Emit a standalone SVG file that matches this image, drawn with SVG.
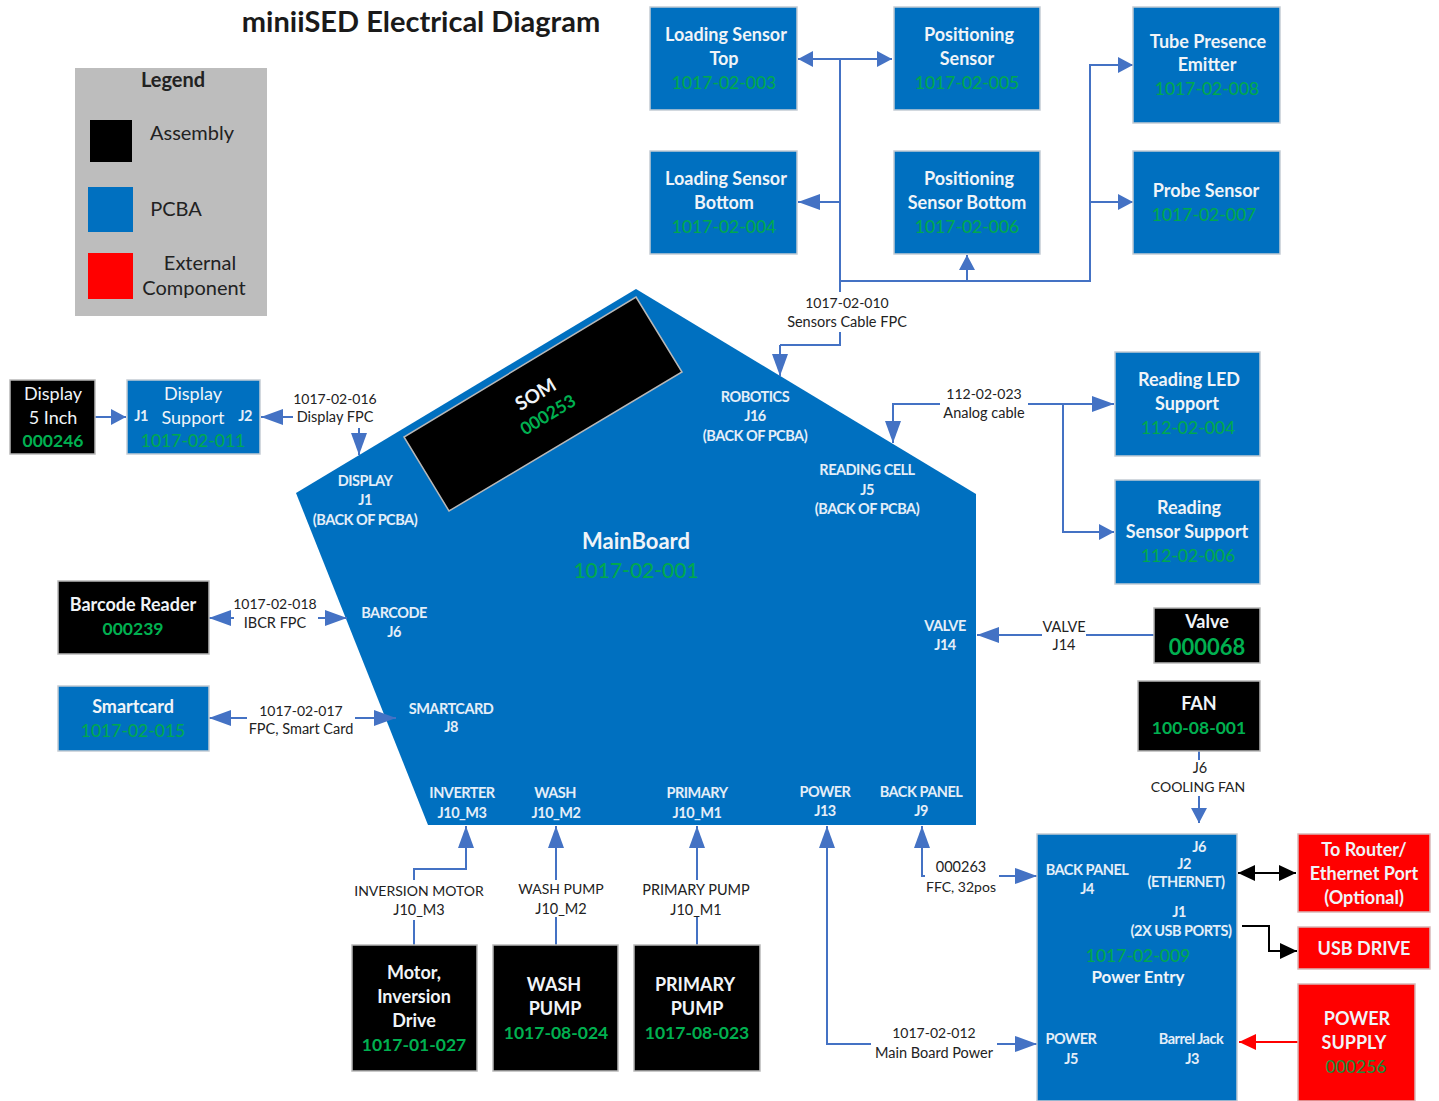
<svg xmlns="http://www.w3.org/2000/svg" width="1439" height="1101" viewBox="0 0 1439 1101">
<style>
text{font-family:Lato,"Open Sans","Liberation Sans",sans-serif;text-anchor:middle}
.b{fill:#0070c0;stroke:#c4ccd4;stroke-width:1.5}
.k{fill:#000;stroke:#b8b8b8;stroke-width:1.5}
.r{fill:#f00;stroke:#d8b8b8;stroke-width:1.5}
.t{fill:#f0f4f8;font-size:18px;font-weight:700}
.w{fill:#f0f4f8;font-size:18px}
.g{fill:#00a84f;font-size:17.5px;font-weight:500}
.g2{fill:#00b050;font-size:17.5px;font-weight:700}
.p{fill:#e4eef8;font-size:14.5px;font-weight:700;letter-spacing:-.5px}
.l{fill:#222;font-size:14.5px}
.n{fill:#222;font-size:14px}
.lg{fill:#222;font-size:20px}
.c{fill:none;stroke:#4472c4;stroke-width:2}
.ab{marker-end:url(#a)}
.as{marker-start:url(#as)}
.sb{marker-end:url(#s)}
.ss{marker-start:url(#ss)}
</style>
<defs>
<marker id="a" markerUnits="userSpaceOnUse" markerWidth="24" markerHeight="18" refX="22" refY="8" orient="auto"><path d="M0 0L22 8L0 16Z" fill="#4472c4"/></marker>
<marker id="as" markerUnits="userSpaceOnUse" markerWidth="24" markerHeight="18" refX="0" refY="8" orient="auto"><path d="M22 0L0 8L22 16Z" fill="#4472c4"/></marker>
<marker id="s" markerUnits="userSpaceOnUse" markerWidth="18" markerHeight="18" refX="15" refY="8" orient="auto"><path d="M0 0L15 8L0 16Z" fill="#4472c4"/></marker>
<marker id="ss" markerUnits="userSpaceOnUse" markerWidth="18" markerHeight="18" refX="0" refY="8" orient="auto"><path d="M15 0L0 8L15 16Z" fill="#4472c4"/></marker>
<marker id="ak" markerUnits="userSpaceOnUse" markerWidth="20" markerHeight="20" refX="17" refY="8" orient="auto"><path d="M0 0L17 8L0 16Z" fill="#000"/></marker>
<marker id="aks" markerUnits="userSpaceOnUse" markerWidth="20" markerHeight="20" refX="0" refY="8" orient="auto"><path d="M17 0L0 8L17 16Z" fill="#000"/></marker>
<marker id="ar" markerUnits="userSpaceOnUse" markerWidth="20" markerHeight="20" refX="17" refY="8" orient="auto"><path d="M0 0L17 8L0 16Z" fill="#f00"/></marker>
</defs>
<rect width="1439" height="1101" fill="#fff"/>
<text id="title" x="421" y="32" font-size="29" font-weight="700" fill="#1a1a1a">miniiSED Electrical Diagram</text>

<g id="legend">
<rect x="75" y="68" width="192" height="248" fill="#bdbdbd"/>
<text class="lg" x="173" y="87" font-weight="700">Legend</text>
<rect x="90" y="120" width="42" height="42" fill="#000"/>
<text class="lg" x="192" y="140">Assembly</text>
<rect x="88" y="187" width="45" height="45" fill="#0070c0"/>
<text class="lg" x="176" y="216">PCBA</text>
<rect x="88" y="253" width="45" height="46" fill="#f00"/>
<text class="lg" x="200" y="270">External</text>
<text class="lg" x="194" y="295">Component</text>
</g>

<g id="mainboard">
<path d="M636 289L976 494V825H428L296 493Z" fill="#0070c0"/>
<text x="636" y="549" class="t" style="font-size:22px">MainBoard</text>
<text x="636" y="578" class="g" style="font-size:21px">1017-02-001</text>
<text class="p" x="365" y="486">DISPLAY</text><text class="p" x="365" y="505">J1</text><text class="p" x="365" y="525">(BACK OF PCBA)</text>
<text class="p" x="755" y="402">ROBOTICS</text><text class="p" x="755" y="421">J16</text><text class="p" x="755" y="441">(BACK OF PCBA)</text>
<text class="p" x="867" y="475">READING CELL</text><text class="p" x="867" y="495">J5</text><text class="p" x="867" y="514">(BACK OF PCBA)</text>
<text class="p" x="394" y="618">BARCODE</text><text class="p" x="394" y="637">J6</text>
<text class="p" x="451" y="714">SMARTCARD</text><text class="p" x="451" y="732">J8</text>
<text class="p" x="945" y="631">VALVE</text><text class="p" x="945" y="650">J14</text>
<text class="p" x="462" y="798">INVERTER</text><text class="p" x="462" y="818">J10_M3</text>
<text class="p" x="555" y="798">WASH</text><text class="p" x="556" y="818">J10_M2</text>
<text class="p" x="697" y="798">PRIMARY</text><text class="p" x="697" y="818">J10_M1</text>
<text class="p" x="825" y="797">POWER</text><text class="p" x="825" y="816">J13</text>
<text class="p" x="921" y="797">BACK PANEL</text><text class="p" x="921" y="816">J9</text>
</g>

<g id="som">
<path d="M636 297L682 372L449 511L404 437Z" fill="#000" stroke="#b8b8b8" stroke-width="1.5"/>
<text class="t" transform="translate(539 400) rotate(-31)" style="font-size:19px">SOM</text>
<text class="g2" transform="translate(551 420) rotate(-31)">000253</text>
</g>

<g id="connectors">
<path class="c sb ss" d="M798 59H892"/>
<path class="c" d="M840 59V345H780"/>
<path class="c ab" d="M840 202H798"/>
<path class="c sb" d="M840 281H967V255"/>
<path class="c sb" d="M840 281H1090V65H1133"/>
<path class="c sb" d="M1090 202H1133"/>
<path class="c ab" d="M780 345V376"/>
<rect x="786" y="292" width="122" height="40" fill="#fff"/>
<text class="n" x="847" y="308">1017-02-010</text><text class="l" x="847" y="327">Sensors Cable FPC</text>

<path class="c sb" d="M95 417H126"/>
<path class="c ab" d="M335 417H261"/>
<path class="c ab" d="M359 417V455"/>
<rect x="293" y="390" width="85" height="38" fill="#fff"/>
<text class="n" x="335" y="404">1017-02-016</text><text class="l" x="335" y="422">Display FPC</text>

<path class="c ab" d="M1040 404H893V443"/>
<path class="c ab" d="M1040 404H1114"/>
<path class="c sb" d="M1063 404V532H1114"/>
<rect x="940" y="385" width="88" height="38" fill="#fff"/>
<text class="n" x="984" y="399">112-02-023</text><text class="l" x="984" y="418">Analog cable</text>

<path class="c ab as" d="M209 618H347"/>
<rect x="234" y="596" width="84" height="38" fill="#fff"/>
<text class="n" x="275" y="609">1017-02-018</text><text class="l" x="275" y="628">IBCR FPC</text>

<path class="c ab as" d="M209 718H396"/>
<rect x="247" y="702" width="108" height="38" fill="#fff"/>
<text class="n" x="301" y="716">1017-02-017</text><text class="l" x="301" y="734">FPC, Smart Card</text>

<path class="c ab" d="M1154 635H977"/>
<rect x="1042" y="618" width="44" height="38" fill="#fff"/>
<text class="l" x="1064" y="632">VALVE</text><text class="l" x="1064" y="650">J14</text>

<path class="c sb" d="M1199 751V823"/>
<rect x="1150" y="760" width="97" height="36" fill="#fff"/>
<text class="l" x="1200" y="773">J6</text><text class="n" x="1198" y="792">COOLING FAN</text>

<path class="c ab" d="M414 945V869H466V826"/>
<rect x="353" y="880" width="132" height="40" fill="#fff"/>
<text class="n" x="419" y="896">INVERSION MOTOR</text><text class="l" x="419" y="915">J10_M3</text>
<path class="c ab" d="M556 945V826"/>
<rect x="518" y="880" width="87" height="37" fill="#fff"/>
<text class="n" x="561" y="894">WASH PUMP</text><text class="l" x="561" y="914">J10_M2</text>
<path class="c ab" d="M697 945V826"/>
<rect x="642" y="880" width="108" height="37" fill="#fff"/>
<text class="l" x="696" y="895">PRIMARY PUMP</text><text class="l" x="696" y="915">J10_M1</text>

<path class="c ab" d="M1000 876H922V826"/>
<path class="c ab" d="M990 876H1037"/>
<rect x="925" y="858" width="74" height="38" fill="#fff"/>
<text class="l" x="961" y="872">000263</text><text class="n" x="961" y="892">FFC, 32pos</text>
<path class="c ab" d="M1000 1044H827V826"/>
<path class="c ab" d="M990 1044H1037"/>
<rect x="871" y="1024" width="126" height="38" fill="#fff"/>
<text class="n" x="934" y="1038">1017-02-012</text><text class="l" x="934" y="1058">Main Board Power</text>

<path d="M1238 873H1296" fill="none" stroke="#000" stroke-width="2" marker-start="url(#aks)" marker-end="url(#ak)"/>
<path d="M1242 926H1269V951H1297" fill="none" stroke="#000" stroke-width="2" marker-end="url(#ak)"/>
<path d="M1298 1042H1239" fill="none" stroke="#f00" stroke-width="2" marker-end="url(#ar)"/>
</g>

<g id="loading-top"><rect class="b" x="650" y="7" width="147" height="103"/><text class="t" x="726" y="41">Loading Sensor</text><text class="t" x="724" y="65">Top</text><text class="g" x="724" y="89">1017-02-003</text></g>
<g id="positioning"><rect class="b" x="894" y="7" width="146" height="103"/><text class="t" x="969" y="41">Positioning</text><text class="t" x="967" y="65">Sensor</text><text class="g" x="967" y="89">1017-02-005</text></g>
<g id="tube"><rect class="b" x="1133" y="7" width="147" height="116"/><text class="t" x="1208" y="48">Tube Presence</text><text class="t" x="1207" y="71">Emitter</text><text class="g" x="1207" y="95">1017-02-008</text></g>
<g id="loading-bottom"><rect class="b" x="650" y="151" width="147" height="103"/><text class="t" x="726" y="185">Loading Sensor</text><text class="t" x="724" y="209">Bottom</text><text class="g" x="724" y="233">1017-02-004</text></g>
<g id="positioning-bottom"><rect class="b" x="894" y="151" width="146" height="103"/><text class="t" x="969" y="185">Positioning</text><text class="t" x="967" y="209">Sensor Bottom</text><text class="g" x="967" y="233">1017-02-006</text></g>
<g id="probe"><rect class="b" x="1133" y="151" width="147" height="103"/><text class="t" x="1206" y="197">Probe Sensor</text><text class="g" x="1204" y="221">1017-02-007</text></g>

<g id="reading-led"><rect class="b" x="1115" y="352" width="145" height="104"/><text class="t" x="1189" y="386">Reading LED</text><text class="t" x="1187" y="410">Support</text><text class="g" x="1188" y="434">112-02-004</text></g>
<g id="reading-sensor"><rect class="b" x="1115" y="480" width="145" height="104"/><text class="t" x="1189" y="514">Reading</text><text class="t" x="1187" y="538">Sensor Support</text><text class="g" x="1188" y="562">112-02-006</text></g>

<g id="display"><rect class="k" x="10" y="380" width="85" height="74"/><text class="w" x="53" y="400">Display</text><text class="w" x="53" y="424">5 Inch</text><text class="g2" x="53" y="447">000246</text></g>
<g id="display-support"><rect class="b" x="127" y="380" width="133" height="74"/><text class="w" x="193" y="400">Display</text><text class="w" x="193" y="424">Support</text><text class="g" x="193" y="447">1017-02-011</text><text class="p" x="141" y="421">J1</text><text class="p" x="245" y="421">J2</text></g>
<g id="barcode"><rect class="k" x="58" y="581" width="151" height="73"/><text class="t" x="133" y="611">Barcode Reader</text><text class="g2" x="133" y="635">000239</text></g>
<g id="smartcard"><rect class="b" x="58" y="686" width="151" height="65"/><text class="t" x="133" y="713">Smartcard</text><text class="g" x="133" y="737">1017-02-015</text></g>
<g id="valve"><rect class="k" x="1154" y="608" width="106" height="55"/><text class="t" x="1207" y="628">Valve</text><text class="g2" x="1207" y="655" style="font-size:22px">000068</text></g>
<g id="fan"><rect class="k" x="1138" y="681" width="122" height="70"/><text class="t" x="1199" y="710">FAN</text><text class="g2" x="1199" y="734">100-08-001</text></g>
<g id="motor"><rect class="k" x="352" y="945" width="125" height="126"/><text class="t" x="414" y="979">Motor,</text><text class="t" x="414" y="1003">Inversion</text><text class="t" x="414" y="1027">Drive</text><text class="g2" x="414" y="1051">1017-01-027</text></g>
<g id="wash"><rect class="k" x="493" y="945" width="125" height="126"/><text class="t" x="554" y="991">WASH</text><text class="t" x="555" y="1015">PUMP</text><text class="g2" x="556" y="1039">1017-08-024</text></g>
<g id="primary"><rect class="k" x="634" y="945" width="126" height="126"/><text class="t" x="695" y="991">PRIMARY</text><text class="t" x="697" y="1015">PUMP</text><text class="g2" x="697" y="1039">1017-08-023</text></g>

<g id="power-entry"><rect class="b" x="1037" y="834" width="200" height="267"/>
<text class="p" x="1087" y="875">BACK PANEL</text><text class="p" x="1087" y="894">J4</text>
<text class="p" x="1199" y="852">J6</text><text class="p" x="1184" y="869">J2</text><text class="p" x="1186" y="887">(ETHERNET)</text>
<text class="p" x="1179" y="917">J1</text><text class="p" x="1181" y="936">(2X USB PORTS)</text>
<text class="g" x="1138" y="962">1017-02-009</text><text class="t" x="1138" y="983" style="font-size:17px">Power Entry</text>
<text class="p" x="1071" y="1044">POWER</text><text class="p" x="1071" y="1064">J5</text>
<text class="p" x="1191" y="1044">Barrel Jack</text><text class="p" x="1192" y="1064">J3</text></g>
<g id="router"><rect class="r" x="1298" y="834" width="132" height="78"/><text class="t" x="1364" y="856">To Router/</text><text class="t" x="1364" y="880">Ethernet Port</text><text class="t" x="1364" y="904">(Optional)</text></g>
<g id="usb"><rect class="r" x="1298" y="927" width="132" height="42"/><text class="t" x="1364" y="955">USB DRIVE</text></g>
<g id="psu"><rect class="r" x="1298" y="984" width="117" height="117"/><text class="t" x="1357" y="1025">POWER</text><text class="t" x="1354" y="1049">SUPPLY</text><text x="1356" y="1073" style="font-size:17.5px;font-weight:500;fill:#1f8a3a">000256</text></g>
</svg>
